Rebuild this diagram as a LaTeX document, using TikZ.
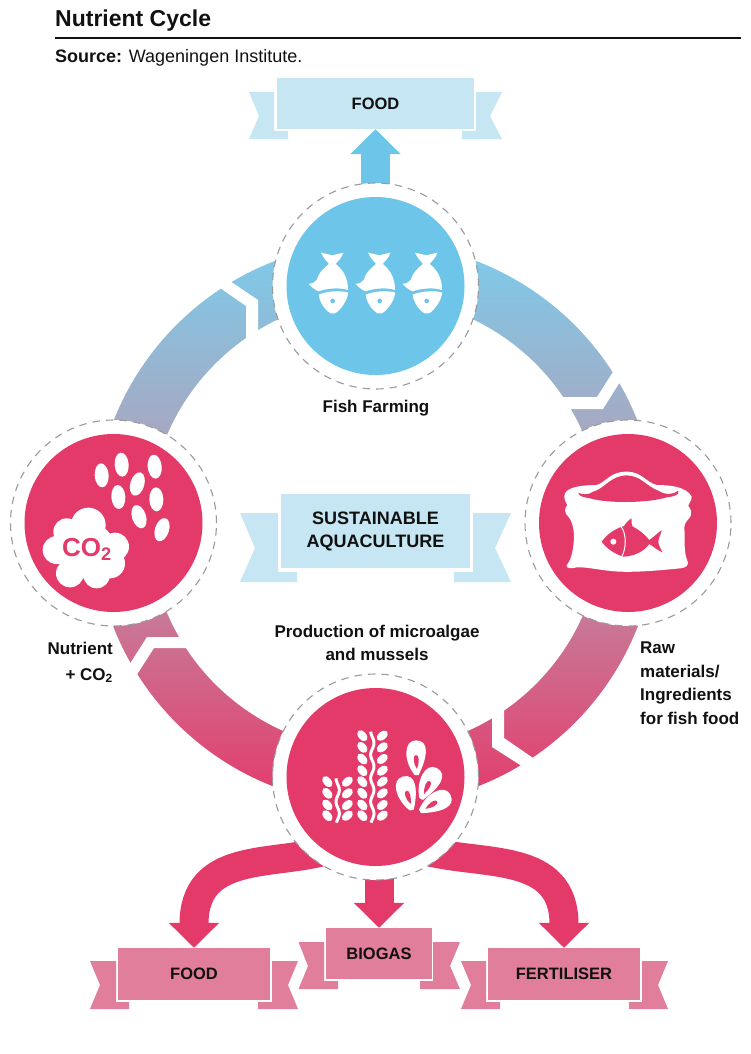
\documentclass[tikz,border=0pt]{standalone}
\usepackage{fontspec}
\setmainfont{Liberation Sans}
\usetikzlibrary{arrows.meta}
\pgfdeclarelayer{under}
\pgfsetlayers{under,main}
\definecolor{pinkc}{HTML}{E43A6A}
\definecolor{bluec}{HTML}{6DC6E9}
\definecolor{ltblue}{HTML}{C5E6F2}
\definecolor{rosec}{HTML}{E07E9B}
\definecolor{dashc}{HTML}{9A9A9A}
\definecolor{inkc}{HTML}{111111}
\newcommand{\bantext}[1]{\raisebox{-1.5pt}{#1}}
\tikzset{
  halo/.style={circle,fill=white,draw=dashc,dash pattern=on 7.5pt off 6pt,line width=1.1pt,minimum size=206pt,inner sep=0pt},
  disc/.style={circle,minimum size=178pt,inner sep=0pt},
  lbl/.style={font=\fontsize{17}{23.5}\selectfont\bfseries,text=inkc,inner sep=0pt},
  bannertext/.style={font=\fontsize{16.5}{23}\selectfont\bfseries,text=inkc,inner sep=0pt,align=center},
  fat/.style={line width=29pt,line join=round,-{Triangle[length=25pt,width=49pt]}},
  fishicon/.pic={
    \begin{scope}[scale=1/3,shift={(-338,-640)}]
      \fill[white] (303,548) -- (337,556) -- (370,548) .. controls (365,565) and (352,575) .. (347,582) .. controls (370,600) and (384,625) .. (384,660) .. controls (360,652) and (320,655) .. (296,664) .. controls (285,660) and (275,652) .. (266,642) .. controls (275,642) and (283,638) .. (290,630) .. controls (295,610) and (310,595) .. (327,582) .. controls (322,575) and (310,565) .. (303,548) -- cycle;
      \fill[white] (296,674) .. controls (320,664) and (360,660) .. (384,668) .. controls (384,690) and (360,722) .. (345,730) -- (332,730) .. controls (315,722) and (298,695) .. (296,674) -- cycle;
      \fill[bluec] (338,693) circle[radius=7];
    \end{scope}},
  shellicon/.pic={
    \fill[white] (0,-52) .. controls (40,-52) and (36,-5) .. (8,52) -- (-4,52) .. controls (-38,10) and (-38,-52) .. (0,-52) -- cycle;
    \fill[pinkc] (0,-8) .. controls (11,-8) and (10,15) .. (3,34) .. controls (-8,20) and (-11,-8) .. (0,-8) -- cycle;
  }
}
\begin{document}
\begin{tikzpicture}[x=1pt,y=-1pt]
\useasboundingbox (0,0) rectangle (750,1054);
% header
\node[anchor=base west,inner sep=0pt,font=\fontsize{23}{26}\selectfont\bfseries,text=inkc] (title) at (55,27) {Nutrient Cycle};
\coordinate (ruleL) at (55,38);
\coordinate (ruleR) at (741,38);
\draw[line width=1.6pt,inkc] (ruleL) -- (ruleR);
\node[anchor=base west,inner sep=0pt,font=\fontsize{18}{20}\selectfont,text=inkc] (source) at (55,63) {\textbf{Source:} Wageningen Institute.};
% stations
\node[halo] (fish) at (375.5,286) {};
\node[disc,fill=bluec] (fishd) at (fish) {};
\node[halo] (algae) at (113.5,523) {};
\node[disc,fill=pinkc] (algaed) at (algae) {};
\node[halo] (sack) at (628,523) {};
\node[disc,fill=pinkc] (sackd) at (sack) {};
\node[halo] (prod) at (375.5,777) {};
\node[disc,fill=pinkc] (prodd) at (prod) {};
% banners
\fill[ltblue] (249,92) -- (274,92) -- (274,131) -- (288,131) -- (288,139) -- (249,139) -- (259,116) -- cycle;
\fill[ltblue] (502,92) -- (476,92) -- (476,131) -- (462,131) -- (462,139) -- (502,139) -- (490,116) -- cycle;
\node[fill=ltblue,bannertext,minimum width=197pt,minimum height=51pt] (foodtop) at (375.5,103.5) {\bantext{FOOD}};
\fill[ltblue] (240,513) -- (278,513) -- (278,572) -- (297,572) -- (297,582) -- (240,582) -- (255,548) -- cycle;
\fill[ltblue] (511,513) -- (473,513) -- (473,572) -- (454,572) -- (454,582) -- (511,582) -- (495,548) -- cycle;
\node[fill=ltblue,bannertext,font=\fontsize{18}{23}\selectfont\bfseries,minimum width=189pt,minimum height=74pt] (sust) at (375.5,531) {SUSTAINABLE\\AQUACULTURE};
\fill[rosec] (90,961) -- (116,961) -- (116,1002) -- (129,1002) -- (129,1009) -- (90,1009) -- (100,985) -- cycle;
\fill[rosec] (298,961) -- (272,961) -- (272,1002) -- (258,1002) -- (258,1009) -- (298,1009) -- (288,985) -- cycle;
\node[fill=rosec,bannertext,minimum width=152pt,minimum height=52pt] (foodb) at (194,974) {\bantext{FOOD}};
\fill[rosec] (298.5,942) -- (324,942) -- (324,981) -- (338,981) -- (338,989) -- (298.5,989) -- (308,966) -- cycle;
\fill[rosec] (460,942) -- (433,942) -- (433,981) -- (420,981) -- (420,989) -- (460,989) -- (450,966) -- cycle;
\node[fill=rosec,bannertext,minimum width=106pt,minimum height=51pt] (biogas) at (379,953.5) {\bantext{BIOGAS}};
\fill[rosec] (461,961) -- (486,961) -- (486,1002) -- (500,1002) -- (500,1009) -- (461,1009) -- (471,985) -- cycle;
\fill[rosec] (668,961) -- (642,961) -- (642,1002) -- (629,1002) -- (629,1009) -- (668,1009) -- (658,985) -- cycle;
\node[fill=rosec,bannertext,minimum width=152pt,minimum height=52pt] (fert) at (564,974) {\bantext{FERTILISER}};
% labels
\node[lbl] (lfish) at (376,408) {Fish Farming};
\node[lbl,align=center] (lprod) at (377,643) {Production of microalgae\\and mussels};
\node[lbl,align=right,anchor=north east] (lnut) at (113,642) {Nutrient\\[2pt]+ CO\textsubscript{2}};
\node[lbl,align=left,anchor=north west] (lraw) at (640,642) {Raw\\materials/\\Ingredients\\for fish food};
% ring and arrows beneath the stations
\begin{pgfonlayer}{under}
  \coordinate (ringc) at (375.5,524);
  \shade[top color=bluec!90!white,bottom color=pinkc,middle color={rgb,255:red,187;green,151;blue,174}] (ringc) circle[radius=281.5];
  \fill[white] (ringc) circle[radius=226.5];
  % chevron gaps
  \fill[white] (632,342) -- (597,397) -- (540,397) -- (540,409) -- (603,409) -- (640,350) -- cycle;
  \fill[white] (200,261) -- (258,300) -- (258,370) -- (246,370) -- (246,306) -- (190,267) -- cycle;
  \fill[white] (210,637) -- (147,637) -- (115,687) -- (122,698) -- (154,648) -- (210,648) -- cycle;
  \fill[white] (504,690) -- (504,738) -- (552,771) -- (542,779) -- (492,747) -- (492,690) -- cycle;
  % arrows
  \draw[fat,bluec] (fish.center) -- (foodtop.south);
  \draw[fat,pinkc] (biogas.north |- prod.center) -- (biogas.north);
  \draw[fat,pinkc] (prodd.236) .. controls (270,866) and (194,852) .. (foodb.north);
  \draw[fat,pinkc] (prodd.304) .. controls (485,866) and (564,852) .. (fert.north);
\end{pgfonlayer}
% fish icons
\pic at (332.7,283.3) {fishicon};
\pic at (379.7,283.3) {fishicon};
\pic at (426.7,283.3) {fishicon};
% algae icon
\begin{scope}[shift={(0,400)},scale=1/3]
  \foreach \x/\y/\a in {305/226/4,365/194/4,464/200/6,412/252/-16,355/291/4,469/298/2,417/350/18,486/389/-18}
    \fill[white,rotate around={\a:(\x,\y)}] (\x,\y) ellipse[x radius=21,y radius=36];
  \fill[white] (265,375) circle[radius=52] (200,395) circle[radius=40] (170,450) circle[radius=42] (210,520) circle[radius=42] (290,525) circle[radius=40] (330,490) circle[radius=45] (345,440) circle[radius=42] (260,450) circle[radius=85];
\end{scope}
\node[inner sep=0pt,font=\fontsize{26}{28}\selectfont\bfseries,text=pinkc] (co2) at (87,549) {CO\textsubscript{2}};
% sack icon
\begin{scope}[shift={(450,370)},scale=1/3]
  \fill[white] (345,370) .. controls (355,350) and (400,345) .. (440,345) .. controls (470,335) and (480,305) .. (530,305) .. controls (575,305) and (585,335) .. (620,345) .. controls (660,345) and (710,350) .. (725,380) .. controls (725,395) and (715,400) .. (715,408) .. controls (725,420) and (725,430) .. (722,438) .. controls (715,450) and (705,455) .. (703,470) .. controls (705,500) and (700,545) .. (712,572) .. controls (720,585) and (705,595) .. (690,595) .. controls (640,600) and (570,607) .. (510,605) .. controls (460,603) and (410,590) .. (380,592) .. controls (365,597) and (345,595) .. (350,585) .. controls (365,570) and (372,530) .. (372,495) .. controls (370,470) and (365,450) .. (355,440) .. controls (340,425) and (345,415) .. (352,405) .. controls (345,395) and (340,380) .. (345,370) -- cycle;
  \fill[pinkc] (385,368) .. controls (395,375) and (415,375) .. (430,365) .. controls (465,355) and (480,318) .. (530,316) .. controls (575,318) and (590,350) .. (625,362) .. controls (645,375) and (670,375) .. (685,362) .. controls (690,375) and (670,380) .. (650,382) .. controls (600,398) and (480,402) .. (420,385) .. controls (405,382) and (385,380) .. (385,368) -- cycle;
  \fill[pinkc] (455,515) .. controls (470,495) and (490,478) .. (522,468) .. controls (527,460) and (535,450) .. (545,445) .. controls (543,455) and (545,465) .. (548,470) .. controls (570,480) and (585,495) .. (598,510) .. controls (610,502) and (622,490) .. (635,480) .. controls (632,495) and (625,505) .. (625,515) .. controls (625,525) and (632,535) .. (637,547) .. controls (622,540) and (610,530) .. (598,522) .. controls (580,545) and (555,558) .. (520,560) .. controls (490,550) and (470,535) .. (455,515) -- cycle;
  \draw[white,line width=1pt] (512,468) .. controls (530,490) and (530,535) .. (514,562);
  \fill[white] (490,515) circle[radius=9];
\end{scope}
% seaweed and mussels
\begin{scope}[shift={(270,690)},scale=1/3]
  \draw[white,line width=3pt] plot[domain=265:398,samples=40] ({203+5*sin(\x*5.1)},\x);
  \draw[white,line width=3pt] plot[domain=125:398,samples=70] ({307+5*sin(\x*5.1)},\x);
  \foreach \y in {275,310,345,377} {
    \fill[white,rotate around={-50:(172,\y)}] (172,\y) ellipse[x radius=19,y radius=12];
    \fill[white,rotate around={40:(232,\y)}] (232,\y) ellipse[x radius=19,y radius=12];
  }
  \foreach \y in {137,172,207,242,275,310,345,377} {
    \fill[white,rotate around={-50:(277,\y)}] (277,\y) ellipse[x radius=19,y radius=12];
    \fill[white,rotate around={40:(337,\y)}] (337,\y) ellipse[x radius=19,y radius=12];
  }
  \pic[transform shape] at (438,203) {shellicon};
  \pic[transform shape,rotate=-28] at (476,280) {shellicon};
  \pic[transform shape,rotate=-62] at (495,338) {shellicon};
  \pic[transform shape,rotate=14] at (411,310) {shellicon};
\end{scope}
\end{tikzpicture}
\end{document}
